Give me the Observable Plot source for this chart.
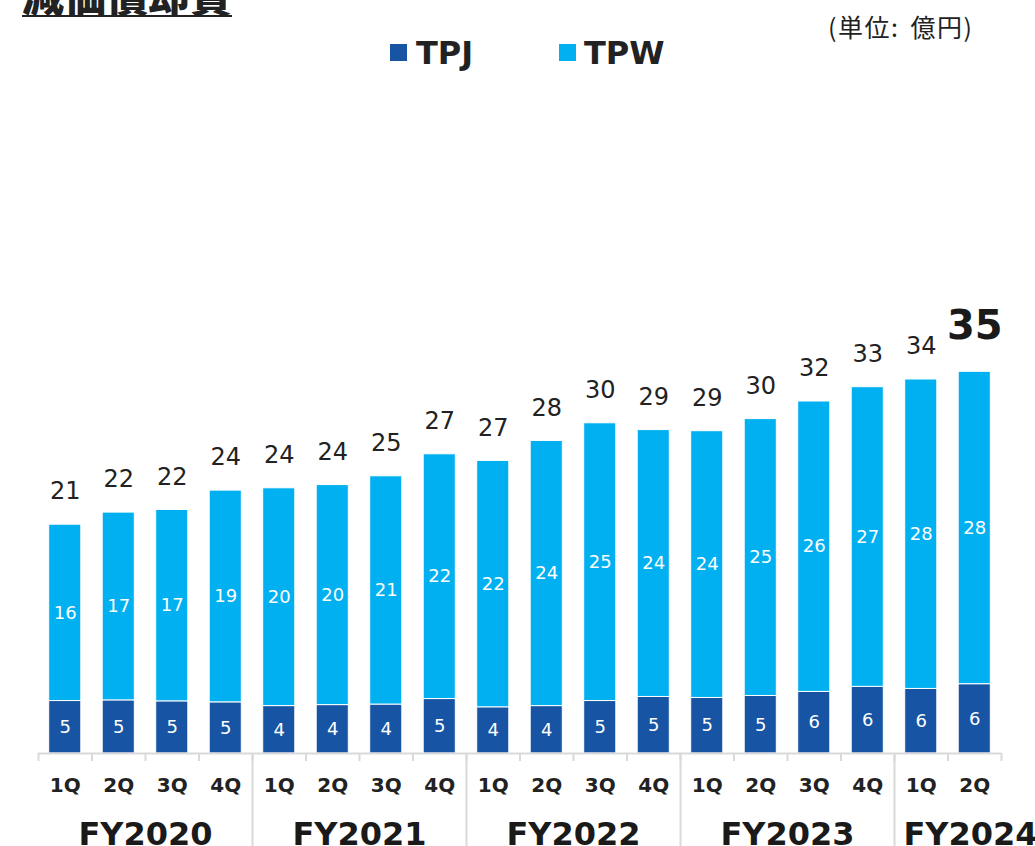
<!DOCTYPE html>
<html>
<head>
<meta charset="utf-8">
<script src="https://cdn.jsdelivr.net/npm/d3@7"></script>
<script src="https://cdn.jsdelivr.net/npm/@observablehq/plot@0.6"></script>
<style>
  body { margin: 0; background: #fff; color: #222; font-family: "DejaVu Sans", Verdana, sans-serif; }
  #wrap { width: 1035px; }
  #header { position: relative; width: 1035px; height: 80px; overflow: hidden; }
  #title { position: absolute; left: 22px; top: -27px; font-family: "Noto Sans CJK JP", sans-serif; font-weight: 900; font-size: 42px; line-height: 42px; border-bottom: 2px solid #222; color: #222; white-space: nowrap; }
  #unit { position: absolute; left: 828px; top: 11px; font-family: "Noto Sans CJK JP", sans-serif; font-size: 25px; line-height: 30px; letter-spacing: 1.5px; word-spacing: 4px; color: #222; white-space: nowrap; }
  .sw { position: absolute; width: 17px; height: 17px; top: 44px; }
  .lg { position: absolute; top: 34px; font-family: "DejaVu Sans", sans-serif; font-weight: bold; font-size: 32px; line-height: 38px; color: #222; }
</style>
</head>
<body>
<div id="wrap">
  <div id="header">
    <div id="title">減価償却費</div>
    <div id="unit">(単位: 億円)</div>
    <div class="sw" id="sw0" style="left:390px"></div>
    <div class="lg" id="lg0" style="left:416px"></div>
    <div class="sw" id="sw1" style="left:559px"></div>
    <div class="lg" id="lg1" style="left:584px"></div>
  </div>
  <div id="chart"></div>
</div>
<script>
const fiscalYears = ["FY2020", "FY2021", "FY2022", "FY2023", "FY2024"];
const quartersPerYear = [4, 4, 4, 4, 2];
const quarterNames = ["1Q", "2Q", "3Q", "4Q"];
const seriesNames = ["TPJ", "TPW"];
const seriesColors = ["#1754A4", "#00B0F0"];
const tpj = [4.77, 4.83, 4.74, 4.65, 4.31, 4.40, 4.45, 4.95, 4.20, 4.31, 4.77, 5.14, 5.05, 5.23, 5.60, 6.06, 5.87, 6.30];
const tpw = [16.03, 17.07, 17.40, 19.25, 19.80, 20.00, 20.75, 22.25, 22.40, 24.10, 25.25, 24.26, 24.25, 25.17, 26.40, 27.24, 28.13, 28.40];

// build keys
const keys = [];
fiscalYears.forEach((fy, i) => {
  for (let q = 0; q < quartersPerYear[i]; q++) keys.push(fy + "-" + quarterNames[q]);
});

const rows = [];
keys.forEach((k, i) => {
  rows.push({key: k, series: seriesNames[0], value: tpj[i]});
  rows.push({key: k, series: seriesNames[1], value: tpw[i]});
});
const totals = keys.map((k, i) => ({key: k, total: tpj[i] + tpw[i]}));
const lastTotal = totals.slice(-1);
const otherTotals = totals.slice(0, -1);

// FY label anchor keys (left-middle quarter; shifted by half a step)
const fyMidKeys = [];
let start = 0;
fiscalYears.forEach((fy, i) => {
  const n = quartersPerYear[i];
  fyMidKeys.push(keys[start + Math.floor((n - 1) / 2)]);
  start += n;
});
// first key of each FY after the first (long separators)
const fyStartKeys = [];
start = 0;
fiscalYears.forEach((fy, i) => { if (i > 0) fyStartKeys.push(keys[start]); start += quartersPerYear[i]; });

// legend
seriesNames.forEach((s, i) => {
  document.getElementById("sw" + i).style.background = seriesColors[i];
  document.getElementById("lg" + i).textContent = s;
});

const W = 1035, H = 766;
const mL = 38, mR = 34, mT = 233, mB = 93;
const step = (W - mL - mR) / keys.length;
const gray = "#d9d9d9";
const fyFont = {fontSize: 32, fontWeight: "bold", fill: "#1a1a1a", tickSize: 0, tickPadding: 69, label: null, tickFormat: d => d.split("-")[0]};

const chart = Plot.plot({
  width: W,
  height: H,
  marginLeft: mL,
  marginRight: mR,
  marginTop: mT,
  marginBottom: mB,
  style: {fontFamily: "'DejaVu Sans', Verdana, sans-serif", color: "#222", background: "#fff", overflow: "visible"},
  x: {domain: keys, paddingInner: 0.40, paddingOuter: 0.20, round: false, label: null},
  y: {domain: [0, 40], axis: null},
  color: {domain: seriesNames, range: seriesColors},
  marks: [
    Plot.barY(rows, {x: "key", y: "value", fill: "series", stroke: "white", strokeWidth: 1}),
    Plot.text(rows, Plot.stackY({x: "key", y: "value", z: "series", text: d => String(Math.round(d.value)), fill: "white", fontSize: 18})),
    Plot.text(otherTotals, {x: "key", y: "total", text: d => String(Math.round(d.total)), dy: -33, fontSize: 24, fill: "#222"}),
    Plot.text(lastTotal, {x: "key", y: "total", text: d => String(Math.round(d.total)), dy: -46, fontSize: 40, fontWeight: "bold", fill: "#1a1a1a"}),
    Plot.ruleY([0], {stroke: gray, strokeWidth: 2}),
    // short ticks at every boundary
    Plot.axisX(keys, {dx: -step / 2, tickSize: 8, fill: "none", stroke: gray, strokeWidth: 2, label: null}),
    Plot.axisX(keys.slice(-1), {dx: step / 2, tickSize: 8, fill: "none", stroke: gray, strokeWidth: 2, label: null}),
    // long separators between fiscal years
    Plot.axisX(fyStartKeys, {dx: -step / 2, tickSize: mB, fill: "none", stroke: gray, strokeWidth: 2, label: null}),
    // quarter labels
    Plot.axisX(keys, {tickSize: 0, tickPadding: 24, tickFormat: d => d.split("-")[1], fontSize: 20, fontWeight: "bold", fill: "#222", label: null}),
    // fiscal-year labels (centred under their quarters; the last one starts just after its separator)
    Plot.axisX(fyMidKeys.slice(0, -1), {...fyFont, dx: step / 2}),
    Plot.axisX(fyMidKeys.slice(-1), {...fyFont, dx: -step / 2 + 9, textAnchor: "start"})
  ]
});
document.getElementById("chart").appendChild(chart);
</script>
</body>
</html>
